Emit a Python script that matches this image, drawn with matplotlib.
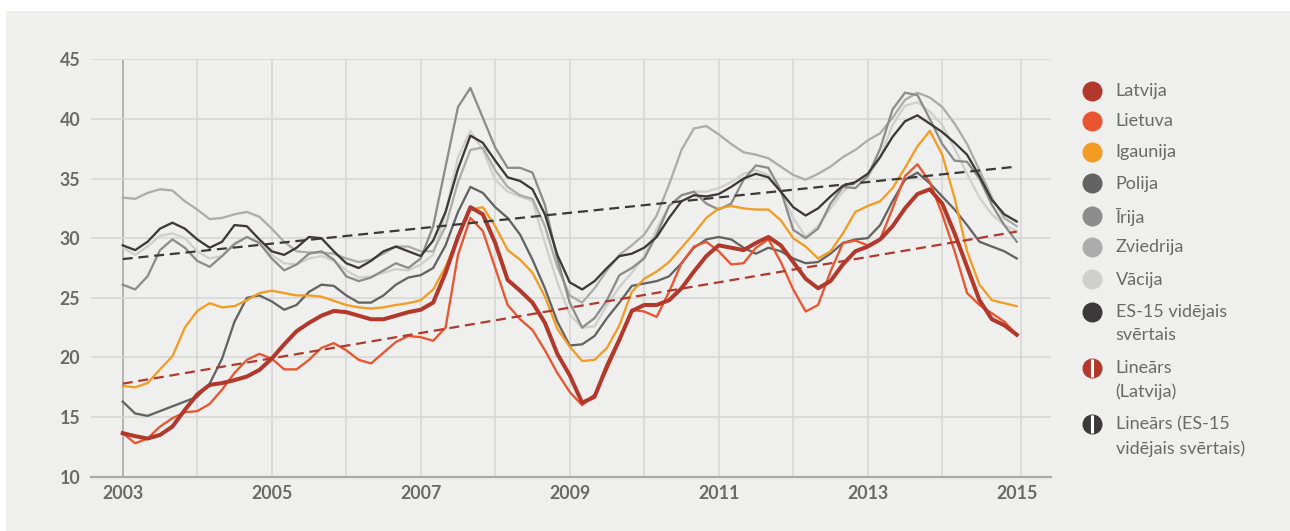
import numpy as np
import matplotlib
matplotlib.use("Agg")
import matplotlib.pyplot as plt
from matplotlib.lines import Line2D
from matplotlib.patches import Rectangle

# ---------------- data (bi-monthly samples, Jan 2003 .. Jan 2015) ----------------
start_year = 2003
samples_per_year = 6

latvija = [13.65, 13.4, 13.2, 13.5, 14.2, 15.6,
           16.9, 17.7, 17.85, 18.1, 18.4, 18.95,
           19.9, 21.1, 22.2, 22.9, 23.5, 23.9,
           23.8, 23.5, 23.2, 23.2, 23.5, 23.8,
           24.0, 24.6, 27.1, 30.1, 32.6, 32.0,
           29.6, 26.5, 25.6, 24.6, 22.9, 20.3,
           18.5, 16.2, 16.7, 19.3, 21.5, 23.9,
           24.4, 24.4, 24.8, 25.8, 27.2, 28.5,
           29.4, 29.2, 29.0, 29.6, 30.1, 29.4,
           28.0, 26.6, 25.8, 26.4, 27.8, 28.9,
           29.3, 29.9, 31.0, 32.5, 33.7, 34.1,
           32.9, 30.4, 27.6, 24.8, 23.2, 22.7,
           21.9]
lietuva = [13.65, 12.8, 13.2, 14.2, 14.9, 15.4,
           15.5, 16.1, 17.3, 18.7, 19.8, 20.3,
           19.9, 19.0, 19.0, 19.8, 20.8, 21.2,
           20.6, 19.8, 19.5, 20.4, 21.3, 21.8,
           21.7, 21.4, 22.5, 28.6, 31.7, 30.6,
           27.5, 24.4, 23.2, 22.3, 20.6, 18.7,
           17.1, 16.0, 16.9, 19.0, 21.35, 24.0,
           23.85, 23.4, 25.5, 27.9, 29.3, 29.7,
           28.9, 27.8, 27.9, 29.2, 29.9, 28.0,
           25.7, 23.85, 24.4, 27.2, 29.6, 29.8,
           29.4, 29.9, 32.5, 35.2, 36.2, 34.7,
           32.0, 28.9, 25.4, 24.4, 23.7, 23.0,
           21.9]
igaunija = [17.6, 17.5, 17.85, 19.0, 20.1, 22.5,
            23.9, 24.55, 24.2, 24.3, 24.8, 25.4,
            25.6, 25.4, 25.2, 25.2, 25.1, 24.75,
            24.4, 24.2, 24.1, 24.2, 24.4, 24.55,
            24.8, 25.7, 27.6, 30.1, 32.4, 32.6,
            31.0, 29.0, 28.2, 27.1, 25.1, 22.4,
            20.9, 19.7, 19.8, 20.8, 22.7, 25.5,
            26.6, 27.2, 28.0, 29.2, 30.4, 31.7,
            32.5, 32.7, 32.5, 32.4, 32.4, 31.5,
            30.0, 29.3, 28.3, 28.9, 30.4, 32.2,
            32.7, 33.1, 34.2, 35.9, 37.7, 39.0,
            37.0, 33.35, 28.9, 26.1, 24.8, 24.55,
            24.3]
polija = [16.3, 15.3, 15.1, 15.5, 15.9, 16.3,
          16.7, 17.8, 19.9, 23.0, 25.0, 25.2,
          24.7, 24.0, 24.4, 25.5, 26.1, 26.0,
          25.2, 24.6, 24.6, 25.2, 26.1, 26.7,
          26.9, 27.5, 29.4, 32.2, 34.3, 33.8,
          32.6, 31.7, 30.3, 28.2, 25.8, 23.0,
          21.0, 21.1, 21.8, 23.3, 24.6, 26.0,
          26.2, 26.4, 26.8, 27.9, 29.2, 29.9,
          30.1, 29.9, 29.2, 28.7, 29.2, 28.9,
          28.3, 27.9, 28.0, 28.7, 29.6, 29.9,
          30.0, 31.1, 33.1, 34.9, 35.5, 34.6,
          33.5, 32.4, 31.1, 29.7, 29.3, 28.9,
          28.3]
irija = [26.1, 25.7, 26.8, 29.0, 29.9, 29.2,
         28.1, 27.6, 28.5, 29.5, 30.1, 29.6,
         28.3, 27.3, 27.8, 28.7, 28.9, 28.2,
         26.8, 26.4, 26.7, 27.3, 27.9, 27.5,
         28.3, 31.0, 36.0, 41.0, 42.6, 40.1,
         37.6, 35.9, 35.9, 35.5, 32.8, 28.3,
         24.6, 22.5, 23.3, 24.8, 26.9, 27.5,
         28.3, 30.3, 32.7, 33.6, 33.9, 32.9,
         32.4, 32.9, 34.9, 36.1, 35.9, 34.0,
         30.7, 30.0, 30.8, 32.9, 34.3, 34.2,
         35.2, 37.5, 40.8, 42.2, 42.0, 40.0,
         37.9, 36.5, 36.4, 35.0, 32.8, 31.1,
         29.7]
zviedrija = [33.4, 33.3, 33.8, 34.1, 34.0, 33.1,
             32.4, 31.6, 31.7, 32.0, 32.2, 31.8,
             30.8, 29.7, 28.9, 28.8, 28.8, 28.7,
             28.3, 28.0, 28.2, 28.7, 29.3, 29.3,
             28.9, 28.9, 31.0, 34.7, 37.4, 37.6,
             35.7, 34.3, 33.6, 33.3, 31.0, 27.6,
             25.2, 24.6, 25.8, 27.3, 28.6, 29.4,
             30.3, 31.9, 34.5, 37.4, 39.2, 39.4,
             38.7, 37.9, 37.2, 37.0, 36.7, 36.0,
             35.3, 34.9, 35.4, 36.0, 36.8, 37.4,
             38.2, 38.8, 40.1, 41.6, 42.2, 41.8,
             41.0, 39.6, 37.9, 35.7, 33.4, 31.7,
             31.0]
vacija = [29.2, 28.6, 29.3, 30.2, 30.4, 30.0,
          28.9, 28.3, 28.5, 29.6, 30.1, 29.6,
          28.6, 27.9, 27.8, 28.3, 28.5, 28.1,
          27.3, 26.7, 26.8, 27.1, 27.4, 27.3,
          27.8, 28.6, 32.1, 36.8, 39.0, 37.4,
          34.9, 33.9, 33.5, 33.1, 29.6, 26.3,
          23.6, 22.5, 22.6, 24.4, 25.9, 27.1,
          28.5, 30.8, 32.7, 33.6, 33.9, 33.9,
          34.2, 34.7, 35.4, 35.7, 35.3, 33.9,
          31.7, 30.1, 31.0, 32.5, 33.9, 34.7,
          35.1, 36.8, 39.5, 41.1, 41.4, 40.6,
          39.5, 37.5, 35.4, 33.4, 32.0, 31.1,
          30.6]
es15 = [29.4, 29.0, 29.7, 30.8, 31.3, 30.8,
        29.9, 29.2, 29.7, 31.1, 31.0, 29.9,
        28.9, 28.6, 29.2, 30.1, 30.0, 28.9,
        27.9, 27.5, 28.1, 28.9, 29.3, 28.9,
        28.5, 29.8, 32.2, 35.8, 38.6, 38.0,
        36.5, 35.1, 34.8, 34.1, 32.0, 28.6,
        26.3, 25.7, 26.4, 27.5, 28.5, 28.7,
        29.2, 30.1, 31.7, 33.1, 33.6, 33.5,
        33.7, 34.3, 35.0, 35.4, 35.1, 33.9,
        32.6, 31.9, 32.5, 33.5, 34.4, 34.7,
        35.4, 36.8, 38.5, 39.8, 40.3, 39.6,
        38.9, 38.0, 37.0, 35.2, 33.2, 32.0,
        31.4]

# linear trend end points (start, end)
trend_years = [2003.0, 2015.0]
trend_latvija = [17.8, 30.55]
trend_es15 = [28.25, 36.0]

y_ticks = [10, 15, 20, 25, 30, 35, 40, 45]
x_ticks = [2003, 2005, 2007, 2009, 2011, 2013, 2015]
x_grid_years = [2004, 2005, 2006, 2007, 2008, 2009, 2010, 2011, 2012, 2013, 2014]

legend_labels = ["Latvija", "Lietuva", "Igaunija", "Polija", "Īrija", "Zviedrija",
                 "Vācija", "ES-15 vidējais\nsvērtais", "Lineārs\n(Latvija)",
                 "Lineārs (ES-15\nvidējais svērtais)"]

t = start_year + np.arange(len(latvija)) / samples_per_year

# ---------------- styling ----------------
C_LV, C_LT, C_EE = "#b2382c", "#e95530", "#f39c24"
C_PL, C_IE, C_SE, C_DE, C_EU = "#636363", "#8c8c8c", "#acacac", "#cfcfcc", "#3b3939"
BG = "#efefed"
TXT = "#6a6a6a"
FONT = "Lato"

W, H = 1290, 531
fig = plt.figure(figsize=(W / 100, H / 100), dpi=100)
fig.patch.set_facecolor("white")
fig.add_artist(Rectangle((6 / W, 0), 1, 520 / H, transform=fig.transFigure,
                         facecolor=BG, edgecolor="none", zorder=-10))

left, right, top, bottom = 90.7, 1051, 59.3, 476.7
ax = fig.add_axes([left / W, 1 - bottom / H, (right - left) / W, (bottom - top) / H])
ax.set_facecolor("none")
ax.set_xlim(2002.57, 2015.46)
ax.set_ylim(10, 45)

for s in ["top", "right", "left"]:
    ax.spines[s].set_visible(False)
ax.spines["bottom"].set_color("#a9a9a9")
ax.spines["bottom"].set_linewidth(1.6)

ax.set_yticks(y_ticks)
ax.set_xticks(x_ticks)
ax.yaxis.grid(True, color="#d5d5d3", lw=1.1)
ax.set_axisbelow(True)
for yr in x_grid_years:
    ax.axvline(yr, color="#d5d5d3", lw=1.1, zorder=0)
ax.axvline(2015.06, color="#d5d5d3", lw=1.1, zorder=0)
ax.axvline(2003, color="#a9a9a9", lw=1.2, zorder=0.5)

ax.tick_params(axis="both", length=0)
ax.tick_params(axis="y", pad=7.5)
ax.tick_params(axis="x", pad=6)
for lab in ax.get_xticklabels() + ax.get_yticklabels():
    lab.set_fontfamily(FONT)
    lab.set_fontweight("bold")
    lab.set_fontsize(12.8)
    lab.set_color(TXT)

lw = 1.65
ax.plot(t, vacija, color=C_DE, lw=lw, zorder=2)
ax.plot(t, zviedrija, color=C_SE, lw=lw, zorder=2.1)
ax.plot(t, irija, color=C_IE, lw=lw, zorder=2.2)
ax.plot(t, polija, color=C_PL, lw=lw, zorder=2.3)
ax.plot(t, es15, color=C_EU, lw=lw, zorder=2.4)
ax.plot(t, igaunija, color=C_EE, lw=lw, zorder=2.5)
ax.plot(t, lietuva, color=C_LT, lw=lw, zorder=2.6)
ax.plot(t, latvija, color=C_LV, lw=2.9, zorder=2.7)
ax.plot(trend_years, trend_latvija, color=C_LV, lw=1.6, dashes=(4.5, 2.6), zorder=3)
ax.plot(trend_years, trend_es15, color=C_EU, lw=1.6, dashes=(4.5, 2.6), zorder=3)

# ---------------- legend (drawn manually) ----------------
colors = [C_LV, C_LT, C_EE, C_PL, C_IE, C_SE, C_DE, C_EU, C_LV, C_EU]
ys = [90.7, 120.5, 151.7, 183.3, 215.7, 246.7, 279.3, 311.7, 367.7, 424.0]
mx, tx = 1092, 1115.5
for i, (lab, col, yp) in enumerate(zip(legend_labels, colors, ys)):
    yf = 1 - yp / H
    fig.add_artist(Line2D([mx / W], [yf], marker="o", ms=13.4, color=col, mec=col,
                          transform=fig.transFigure, ls="none"))
    if i >= 8:
        fig.add_artist(Line2D([mx / W], [yf], marker="|", ms=13.6, color="white",
                              mew=2.2, transform=fig.transFigure, ls="none"))
    fig.text(tx / W, 1 - (yp - 7.5) / H, lab, ha="left", va="top", fontsize=13,
             family=FONT, color=TXT, linespacing=1.55)

fig.savefig("out.png", dpi=100, facecolor=fig.get_facecolor())
